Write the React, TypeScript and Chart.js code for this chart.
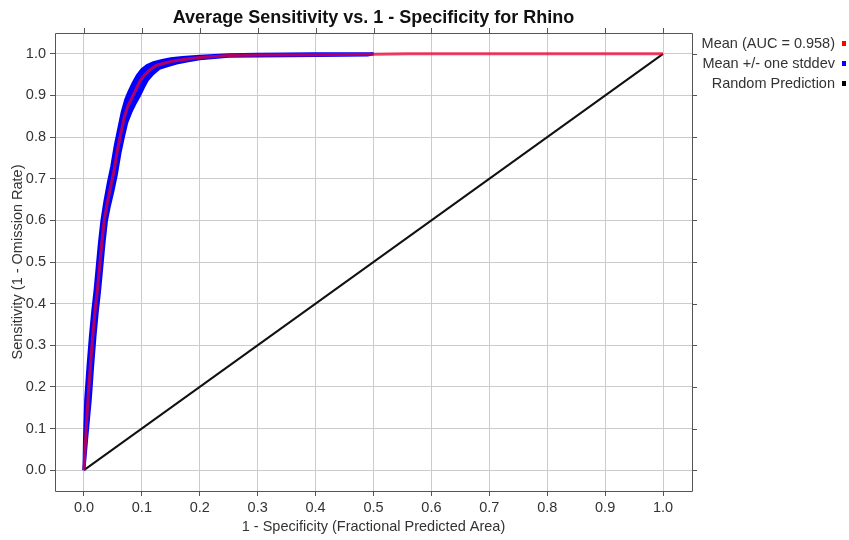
import React, { useEffect, useRef } from "react";
import { Chart, registerables } from "chart.js";

Chart.register(...registerables);

const chartTitle = "Average Sensitivity vs. 1 - Specificity for Rhino";
const xAxisTitle = "1 - Specificity (Fractional Predicted Area)";
const yAxisTitle = "Sensitivity (1 - Omission Rate)";
const tickValues = [0, 0.1, 0.2, 0.3, 0.4, 0.5, 0.6, 0.7, 0.8, 0.9, 1.0];

const meanLabel = "Mean (AUC = 0.958)";
const bandLabel = "Mean +/- one stddev";
const randomLabel = "Random Prediction";

const meanX = [0, 0.003, 0.007, 0.011, 0.015, 0.019, 0.023, 0.027, 0.031, 0.035, 0.04, 0.046, 0.052, 0.058, 0.064, 0.07, 0.076, 0.083, 0.09, 0.097, 0.105, 0.114, 0.125, 0.14, 0.155, 0.175, 0.2, 0.25, 0.3, 0.4, 0.5, 0.56, 1.0];
const meanY = [0, 0.08, 0.17, 0.25, 0.32, 0.38, 0.43, 0.49, 0.55, 0.6, 0.64, 0.68, 0.72, 0.77, 0.81, 0.85, 0.875, 0.895, 0.915, 0.935, 0.95, 0.962, 0.972, 0.978, 0.983, 0.987, 0.991, 0.996, 0.997, 0.998, 0.999, 1.0, 1.0];

const upperX = [0, 0.001, 0.003, 0.007, 0.011, 0.015, 0.019, 0.023, 0.027, 0.031, 0.036, 0.042, 0.048, 0.054, 0.06, 0.066, 0.072, 0.078, 0.085, 0.092, 0.1, 0.109, 0.12, 0.135, 0.15, 0.17, 0.2, 0.25, 0.3, 0.4, 0.5];
const upperY = [0, 0.08, 0.17, 0.25, 0.32, 0.38, 0.43, 0.49, 0.55, 0.6, 0.645, 0.69, 0.73, 0.78, 0.82, 0.86, 0.89, 0.91, 0.93, 0.948, 0.962, 0.972, 0.979, 0.984, 0.988, 0.991, 0.994, 0.998, 0.999, 1.0, 1.0];

const lowerX = [0, 0.005, 0.011, 0.015, 0.019, 0.023, 0.027, 0.031, 0.035, 0.039, 0.044, 0.05, 0.056, 0.062, 0.068, 0.074, 0.081, 0.088, 0.096, 0.103, 0.11, 0.119, 0.13, 0.145, 0.16, 0.18, 0.2, 0.25, 0.3, 0.4, 0.49, 0.5];
const lowerY = [0, 0.08, 0.17, 0.25, 0.32, 0.38, 0.43, 0.49, 0.55, 0.6, 0.635, 0.67, 0.71, 0.76, 0.8, 0.835, 0.86, 0.88, 0.9, 0.92, 0.938, 0.952, 0.965, 0.972, 0.978, 0.983, 0.988, 0.994, 0.995, 0.996, 0.997, 1.0];

const randomX = [0, 1];
const randomY = [0, 1];

const toPts = (xs: number[], ys: number[]) => xs.map((x, i) => ({ x, y: ys[i] }));

const FONT = "'Liberation Sans', Arial, sans-serif";

const framePlugin = {
  id: "frame",
  afterDraw(chart: any) {
    const { ctx, chartArea } = chart;
    const { left, right, top, bottom } = chartArea;
    const xs = chart.scales.x;
    const ys = chart.scales.y;
    ctx.save();
    ctx.strokeStyle = "#555555";
    ctx.lineWidth = 1;
    ctx.beginPath();
    ctx.rect(Math.round(left) + 0.5, Math.round(top) + 0.5, Math.round(right - left), Math.round(bottom - top));
    ctx.stroke();
    ctx.beginPath();
    for (const t of tickValues) {
      const px = Math.round(xs.getPixelForValue(t)) + 0.5;
      ctx.moveTo(px, top);
      ctx.lineTo(px, top - 5);
      const py = Math.round(ys.getPixelForValue(t)) + 0.5;
      ctx.moveTo(right, py);
      ctx.lineTo(right + 5, py);
    }
    ctx.stroke();

    // legend
    const items = chart.data.datasets.filter((d: any) => d.label);
    ctx.font = `14.5px ${FONT}`;
    ctx.textAlign = "right";
    ctx.textBaseline = "middle";
    items.forEach((d: any, i: number) => {
      const cy = 44 + i * 20;
      ctx.fillStyle = "#333333";
      ctx.fillText(d.label, 835, cy);
      ctx.fillStyle = d.legendColor;
      ctx.fillRect(842, cy - 3, 4, 5);
    });
    ctx.restore();
  },
};

export default function App() {
  const ref = useRef<HTMLCanvasElement | null>(null);
  useEffect(() => {
    if (!ref.current) return;
    const chart = new Chart(ref.current, {
      type: "line",
      data: {
        datasets: [
          {
            label: meanLabel,
            legendColor: "#ff0000",
            data: toPts(meanX, meanY),
            borderColor: "rgba(235,0,50,0.75)",
            borderWidth: 3,
            pointRadius: 0,
            fill: false,
          } as any,
          {
            label: bandLabel,
            legendColor: "#0000ff",
            data: toPts(upperX, upperY),
            borderColor: "#0000ff",
            borderWidth: 3,
            pointRadius: 0,
            fill: false,
          },
          {
            label: "",
            data: toPts(lowerX, lowerY),
            borderColor: "#0000ff",
            backgroundColor: "#0000ff",
            borderWidth: 3,
            pointRadius: 0,
            fill: "-1",
          },
          {
            label: randomLabel,
            legendColor: "#000000",
            data: toPts(randomX, randomY),
            borderColor: "#111111",
            borderWidth: 2,
            pointRadius: 0,
            fill: false,
          },
        ],
      },
      options: {
        responsive: false,
        animation: false,
        layout: { padding: { left: 0, right: 157, top: 0, bottom: 0 } },
        plugins: {
          legend: { display: false },
          tooltip: { enabled: false },
          title: {
            display: true,
            text: chartTitle,
            fullSize: false,
            color: "#111111",
            font: { family: FONT, size: 18, weight: "bold" },
            padding: { top: 7.7, bottom: 3.7 },
          },
        },
        scales: {
          x: {
            type: "linear",
            min: -0.05,
            max: 1.05,
            afterBuildTicks: (s: any) => {
              s.ticks = tickValues.map((v) => ({ value: v }));
            },
            afterFit: (s: any) => {
              s.height = 49;
            },
            ticks: {
              callback: (v: any) => Number(v).toFixed(1),
              color: "#333333",
              font: { family: FONT, size: 14.5 },
              padding: 3.3,
              maxRotation: 0,
            },
            grid: { color: "#cccccc", lineWidth: 1, tickLength: 5, tickColor: "#555555", drawTicks: true },
            border: { display: false },
            title: {
              display: true,
              text: xAxisTitle,
              color: "#333333",
              font: { family: FONT, size: 14.5 },
              padding: { top: 2, bottom: 4.3 },
            },
          },
          y: {
            type: "linear",
            min: -0.05,
            max: 1.05,
            afterBuildTicks: (s: any) => {
              s.ticks = tickValues.map((v) => ({ value: v }));
            },
            afterFit: (s: any) => {
              s.width = 55;
            },
            ticks: {
              callback: (v: any) => Number(v).toFixed(1),
              color: "#333333",
              font: { family: FONT, size: 14.5 },
              padding: 4,
            },
            grid: { color: "#cccccc", lineWidth: 1, tickLength: 5, tickColor: "#555555", drawTicks: true },
            border: { display: false },
            title: {
              display: true,
              text: yAxisTitle,
              color: "#333333",
              font: { family: FONT, size: 14.5 },
              padding: { top: 9.3, bottom: 2 },
            },
          },
        },
      } as any,
      plugins: [framePlugin],
    });
    return () => chart.destroy();
  }, []);
  return (
    <div style={{ position: "fixed", left: 0, top: 0, width: 849, height: 540, background: "#ffffff" }}>
      <canvas ref={ref} width={849} height={540} />
    </div>
  );
}
